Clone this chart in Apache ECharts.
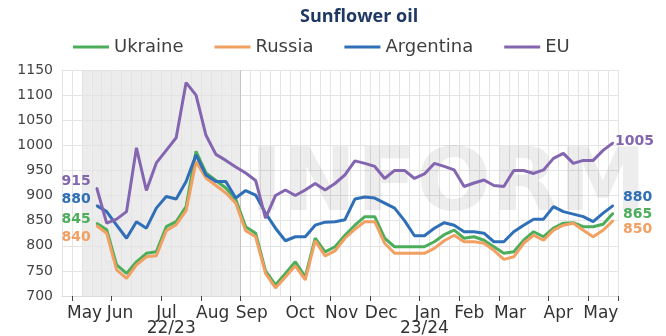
<!DOCTYPE html>
<html>
<head>
<meta charset="utf-8">
<script src="https://cdn.jsdelivr.net/npm/echarts@6/dist/echarts.min.js"></script>
<style>
  html, body { margin: 0; padding: 0; background: #ffffff; }
  #chart { width: 666px; height: 336px; }
</style>
</head>
<body>
<div id="chart"></div>
<script>
// Weekly calendar: one lead week of late April, then weeks per month
const leadWeek = 'Apr 2023 w4';
const monthNames = ['May', 'Jun', 'Jul', 'Aug', 'Sep', 'Oct', 'Nov', 'Dec', 'Jan', 'Feb', 'Mar', 'Apr', 'May'];
const monthYears = [2023, 2023, 2023, 2023, 2023, 2023, 2023, 2023, 2024, 2024, 2024, 2024, 2024];
const weeksPerMonth = [4, 5, 4, 4, 5, 4, 4, 5, 4, 4, 5, 4, 3];

// Marketing seasons and the week spans their captions are centred on
const seasonNames = ['22/23', '23/24'];
const seasonCaptionSpans = [['Jul 2023 w1', 'Jul 2023 w2'], ['Jan 2024 w1', 'Jan 2024 w1']];
// Weeks shaded as the 22/23 season
const shadeFromWeek = 'May 2023 w2';
const shadeToWeek = 'Aug 2023 w4';

// Value axis
const yMin = 700;
const yMax = 1150;
const yStep = 50;

// Prices, USD/t, weekly from the third week of May 2023
const ukraine = [845, 832, 762, 745, 768, 785, 788, 838, 848, 878, 988, 945, 930, 915, 892, 838, 825, 750, 722, 745,
  768, 738, 815, 788, 798, 821, 841, 858, 858, 815, 798, 798, 798, 798, 808, 822, 831, 815, 818, 811,
  798, 785, 788, 811, 828, 818, 835, 845, 846, 838, 838, 843, 865];
const russia = [840, 825, 752, 735, 762, 778, 780, 830, 842, 870, 968, 935, 920, 905, 885, 830, 818, 745, 716, 738,
  760, 732, 810, 780, 790, 815, 833, 848, 848, 805, 785, 785, 785, 785, 795, 810, 821, 808, 808, 805,
  791, 773, 778, 805, 821, 811, 831, 841, 845, 831, 818, 831, 850];
const argentina = [880, 868, 841, 815, 848, 835, 875, 898, 893, 928, 981, 941, 928, 928, 895, 910, 901, 865, 835, 810,
  818, 818, 841, 847, 848, 852, 893, 897, 895, 885, 875, 850, 820, 820, 835, 846, 841, 828, 828, 825,
  808, 808, 828, 841, 853, 853, 878, 868, 863, 858, 848, 865, 880];
const eu = [915, 845, 853, 868, 995, 910, 965, 990, 1015, 1125, 1100, 1020, 982, 970, 957, 945, 930, 855, 900, 911,
  900, 911, 924, 911, 924, 941, 969, 964, 958, 934, 950, 950, 934, 943, 964, 958, 951, 918, 925, 931,
  920, 918, 950, 950, 944, 951, 974, 984, 964, 970, 970, 990, 1005];

const FONT = 'DejaVu Sans';

// Build the week categories
const categories = [leadWeek];
monthNames.forEach((m, k) => {
  for (let w = 1; w <= weeksPerMonth[k]; w++) categories.push(m + ' ' + monthYears[k] + ' w' + w);
});
const isMonthStart = (v) => typeof v === 'string' && v.endsWith(' w1');
const lead = categories.length - ukraine.length;
const shadeFrom = categories.indexOf(shadeFromWeek);
const shadeTo = categories.indexOf(shadeToWeek);
const sepIdx = categories.indexOf('Sep 2023 w1');

// Vertical grid colours: one per week boundary, the season break is darker
const vLineColors = [];
for (let i = 0; i <= categories.length; i++) vLineColors.push(i === sepIdx ? '#c4c4c4' : '#e4e4e4');

function lineSeries(name, values, color, startOffset, endOffset) {
  const padded = new Array(lead).fill(null).concat(values);
  const data = padded.map((v, i) => {
    if (i === lead) {
      return { value: v, symbol: 'circle', symbolSize: 2,
        label: { show: true, position: 'left', offset: startOffset } };
    }
    if (i === padded.length - 1) {
      return { value: v, symbol: 'circle', symbolSize: 2,
        label: { show: true, position: 'right', offset: endOffset } };
    }
    return v;
  });
  return {
    name: name,
    type: 'line',
    data: data,
    symbol: 'none',
    showSymbol: true,
    showAllSymbol: true,
    connectNulls: false,
    lineStyle: { width: 3, color: color },
    itemStyle: { color: color },
    label: { fontFamily: FONT, fontWeight: 'bold', fontSize: 14, color: color,
      formatter: (p) => String(p.value) },
    z: 3,
    animation: false
  };
}

const colors = {
  ukraine: '#4cad5b',
  russia: '#f2a062',
  argentina: '#2f6fb7',
  eu: '#8465b0'
};

const chart = echarts.init(document.getElementById('chart'), null, { renderer: 'canvas' });
chart.setOption({
  backgroundColor: '#ffffff',
  animation: false,
  title: {
    text: 'Sunflower oil',
    left: 295,
    top: 3,
    textStyle: { fontFamily: 'Open Sans', fontWeight: 'bold', fontSize: 18, color: '#1f3864' }
  },
  legend: {
    data: ['Ukraine', 'Russia', 'Argentina', 'EU'],
    left: 73,
    top: 38,
    padding: 0,
    icon: 'rect',
    itemWidth: 36,
    itemHeight: 3,
    itemGap: 31,
    textStyle: { fontFamily: FONT, fontSize: 18, color: '#404040' }
  },
  grid: { left: 62, right: 48, top: 70, bottom: 40 },
  xAxis: {
    type: 'category',
    data: categories,
    boundaryGap: true,
    axisLine: { show: true, lineStyle: { color: '#dcdcdc' } },
    axisTick: {
      show: true, length: 5,
      interval: (i, v) => isMonthStart(v),
      lineStyle: { color: '#444', width: 1 }
    },
    axisLabel: {
      interval: (i) => i + 1 < categories.length && isMonthStart(categories[i + 1]),
      formatter: (v, i) => categories[i + 1].split(' ')[0],
      align: 'left',
      margin: 9,
      fontFamily: FONT, fontSize: 17, color: '#333'
    },
    splitLine: { show: true, interval: 0, lineStyle: { color: vLineColors, width: 1 } }
  },
  yAxis: {
    type: 'value',
    min: yMin,
    max: yMax,
    interval: yStep,
    axisLine: { show: true, lineStyle: { color: '#e4e4e4' } },
    axisTick: { show: false },
    axisLabel: { margin: 9, fontFamily: FONT, fontSize: 14, color: '#444',
      formatter: (v) => String(v) },
    splitLine: { show: true, lineStyle: { color: '#e4e4e4', width: 1 } }
  },
  series: [
    {
      name: '22/23 season',
      type: 'bar',
      data: categories.map((c, i) => (i >= shadeFrom && i <= shadeTo ? yMax : null)),
      barCategoryGap: '0%',
      itemStyle: { color: '#ececec' },
      silent: true,
      z: -1,
      animation: false
    },
    lineSeries('Ukraine', ukraine, colors.ukraine, [0, -4], [4, 1]),
    lineSeries('Russia', russia, colors.russia, [0, 12], [4, 9]),
    lineSeries('Argentina', argentina, colors.argentina, [0, -6], [4, -8]),
    lineSeries('EU', eu, colors.eu, [0, -7], [-4, -1])
  ]
});

// Season captions under the month row, placed through the category axis
const baseY = chart.convertToPixel({ yAxisIndex: 0 }, yMin);
const captions = seasonNames.map((name, k) => {
  const span = seasonCaptionSpans[k];
  const x = (chart.convertToPixel({ xAxisIndex: 0 }, span[0]) + chart.convertToPixel({ xAxisIndex: 0 }, span[1])) / 2;
  return {
    type: 'text',
    x: x,
    y: baseY + 33,
    silent: true,
    style: { text: name, fontFamily: FONT, fontSize: 17, fill: '#333', align: 'center', verticalAlign: 'middle' }
  };
});
chart.setOption({
  graphic: [{
    type: 'text',
    left: 250,
    top: 143,
    z: 1,
    silent: true,
    style: { text: 'INFORM', font: 'bold 88px "DejaVu Sans"', fill: 'rgba(0,0,0,0.07)' }
  }].concat(captions)
});
</script>
</body>
</html>
